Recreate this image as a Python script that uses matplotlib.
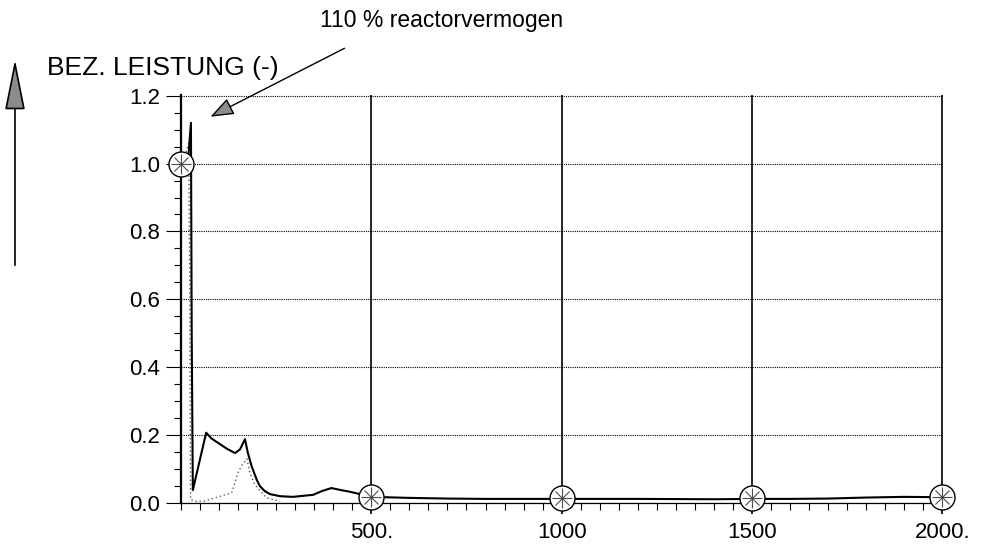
import numpy as np
import matplotlib
matplotlib.use("Agg")
import matplotlib.pyplot as plt
from matplotlib.ticker import MultipleLocator, FixedLocator

plt.rcParams['font.family'] = ['Liberation Sans', 'DejaVu Sans']

# bezogene Leistung, durchgezogene Kurve
t_main = [0, 10, 20, 26, 28, 31, 66, 80, 100, 120, 142, 155, 168, 175, 185, 199, 207, 220,
          234, 260, 294, 347, 370, 395, 420, 444, 500, 600, 700, 800, 900, 1000, 1200,
          1400, 1500, 1600, 1700, 1800, 1900, 2000]
p_main = [1.0, 1.0, 1.03, 1.12, 0.5, 0.038, 0.207, 0.19, 0.175, 0.16, 0.147, 0.158, 0.188,
          0.15, 0.11, 0.068, 0.05, 0.035, 0.026, 0.02, 0.018, 0.024, 0.035, 0.044, 0.038,
          0.033, 0.018, 0.015, 0.013, 0.012, 0.012, 0.012, 0.012, 0.011, 0.012, 0.012,
          0.013, 0.016, 0.018, 0.017]

# gestrichelte Kurve
t_dot = [0, 10, 20, 23, 25, 40, 60, 89, 133, 150, 159, 173, 181, 194, 225, 260]
p_dot = [1.0, 1.02, 1.06, 0.6, 0.01, 0.005, 0.005, 0.015, 0.03, 0.09, 0.11, 0.13, 0.088,
         0.053, 0.015, 0.005]

# Markierungen
t_mark = [0, 500, 1000, 1500, 2000]
p_mark = [1.0, 0.018, 0.015, 0.015, 0.017]

x_ticks = [500, 1000, 1500, 2000]
x_labels = ["500.", "1000", "1500", "2000."]
y_ticks = [0.0, 0.2, 0.4, 0.6, 0.8, 1.0, 1.2]
y_labels = ["0.0", "0.2", "0.4", "0.6", "0.8", "1.0", "1.2"]

fig = plt.figure(figsize=(10.03, 5.46), dpi=100)
ax = fig.add_axes([0.1805, 0.0788, 0.7597, 0.7472])

ax.plot(t_dot, p_dot, color="0.35", lw=1.0, ls=(0, (1, 2)), zorder=3)
ax.plot(t_main, p_main, color="black", lw=1.5, zorder=4)

ax.plot(t_mark, p_mark, ls="none", marker="o", ms=18, mfc="white", mec="black", mew=1.0,
        zorder=5, clip_on=False)
ax.plot(t_mark, p_mark, ls="none", marker="+", ms=14, mec="0.3", mew=0.8, zorder=6, clip_on=False)
ax.plot(t_mark, p_mark, ls="none", marker="x", ms=10, mec="0.3", mew=0.8, zorder=6, clip_on=False)

ax.set_xlim(0, 2002)
ax.set_ylim(0, 1.202)

ax.xaxis.set_major_locator(FixedLocator(x_ticks))
ax.set_xticklabels(x_labels)
ax.xaxis.set_minor_locator(MultipleLocator(50))
ax.yaxis.set_major_locator(FixedLocator(y_ticks))
ax.set_yticklabels(y_labels)
ax.yaxis.set_minor_locator(MultipleLocator(0.05))

ax.tick_params(axis="x", which="major", length=8, width=1.2, pad=6, labelsize=16)
ax.tick_params(axis="x", which="minor", length=5, width=0.8)
ax.tick_params(axis="y", which="major", length=11, width=0.8, pad=4, labelsize=16)
ax.tick_params(axis="y", which="minor", length=5, width=0.8)

ax.grid(axis="x", which="major", color="black", lw=1.2, ls="-")
ax.grid(axis="y", which="major", color="black", lw=0.8, ls=(0, (1, 1)))

for s in ["top", "right"]:
    ax.spines[s].set_visible(False)
ax.spines["left"].set_linewidth(1.6)
ax.spines["bottom"].set_linewidth(0.9)
ax.spines["bottom"].set_linestyle((0, (2, 1)))

# Beschriftungen
fig.text(47, 546 - 68, "BEZ. LEISTUNG (-)", transform=None, fontsize=19,
         va="center", ha="left")
ax.annotate("", xy=(15, 546 - 57), xytext=(15, 546 - 268),
            xycoords="figure pixels", textcoords="figure pixels",
            arrowprops=dict(arrowstyle="-|>,head_length=1.6,head_width=0.32",
                            mutation_scale=20, fc="0.55", ec="black", lw=1.2))

fig.text(442, 546 - 20, "110 % reactorvermogen", transform=None, fontsize=16.5,
         va="center", ha="center")
ax.annotate("", xy=(208, 546 - 118), xytext=(347, 546 - 47),
            xycoords="figure pixels", textcoords="figure pixels",
            arrowprops=dict(arrowstyle="-|>,head_length=0.8,head_width=0.3",
                            mutation_scale=18, fc="0.55", ec="black", lw=1.0))

fig.savefig("out.png", dpi=100)
